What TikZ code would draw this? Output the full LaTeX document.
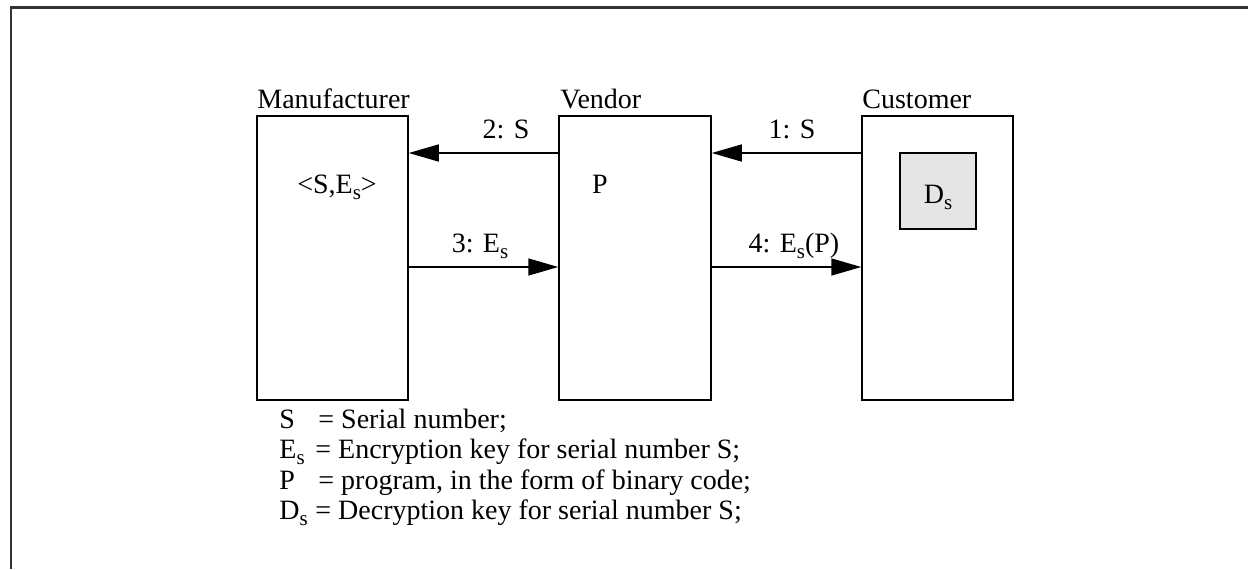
\documentclass[tikz,border=0pt]{standalone}
\usepackage{fontspec}
\setmainfont{Liberation Serif}
\usetikzlibrary{arrows.meta}
\newcommand{\lowS}{\raisebox{-3pt}{\fontsize{10.5}{10.5}\selectfont s}}
\begin{document}
\begin{tikzpicture}[x=0.5pt,y=-0.5pt,
  txt/.style={inner sep=0pt,font=\fontsize{14}{16}\selectfont},
  box/.style={draw=black,line width=0.75pt,inner sep=0pt,minimum width=75.5pt,minimum height=142pt},
  keybox/.style={draw=black,fill=black!10,line width=0.75pt,inner sep=0pt,minimum width=38pt,minimum height=38pt},
  arr/.style={line width=0.75pt,-{Triangle[length=15pt,width=8.5pt]}},
  frame/.style={draw=black!80,line width=1.25pt}]
\useasboundingbox (0,0) rectangle (1248,569);
% frame
\coordinate (ftr) at (1248,7.5);
\coordinate (ftl) at (11,7.5);
\coordinate (fbl) at (11,569);
\draw[frame] (ftr) -- (ftl) -- (fbl);
% boxes
\node[box] (man) at (332.5,258) {};
\node[box,minimum width=76pt] (ven) at (635,258) {};
\node[box] (cus) at (937.5,258) {};
\node[keybox] (key) at (938,191) {};
% titles
\node[txt,anchor=base west] (tman) at (257,108) {Manufacturer};
\node[txt,anchor=base west] (tven) at (560,108) {Vendor};
\node[txt,anchor=base west] (tcus) at (862,108) {Customer};
% contents
\node[txt,anchor=base] (cman) at (337,193) {<S,E\lowS>};
\node[txt,anchor=base] (cven) at (600,193) {P};
\node[txt,anchor=base] (ckey) at (key.center |- 0,203) {D\lowS};
% arrows
\coordinate (ya) at (0,153);
\coordinate (yb) at (0,267);
\draw[arr] (ven.west |- ya) -- (man.east |- ya);
\draw[arr] (man.east |- yb) -- (ven.west |- yb);
\draw[arr] (cus.west |- ya) -- (ven.east |- ya);
\draw[arr] (ven.east |- yb) -- (cus.west |- yb);
% arrow labels
\node[txt,anchor=base] (l2) at (506,138) {2: S};
\node[txt,anchor=base] (l3) at (480,252) {3: E\lowS};
\node[txt,anchor=base] (l1) at (792,138) {1: S};
\node[txt,anchor=base] (l4) at (794,252) {4: E\lowS(P)};
% legend
\node[txt,anchor=base west] (s1) at (279,428) {S};
\node[txt,anchor=base west] (d1) at (318,428) {= Serial number;};
\node[txt,anchor=base west] (s2) at (279,458.5) {E\lowS};
\node[txt,anchor=base west] (d2) at (315,458.5) {= Encryption key for serial number S;};
\node[txt,anchor=base west] (s3) at (279,489) {P};
\node[txt,anchor=base west] (d3) at (318,489) {= program, in the form of binary code;};
\node[txt,anchor=base west] (s4) at (279,519.5) {D\lowS};
\node[txt,anchor=base west] (d4) at (315,519.5) {= Decryption key for serial number S;};
\end{tikzpicture}
\end{document}
